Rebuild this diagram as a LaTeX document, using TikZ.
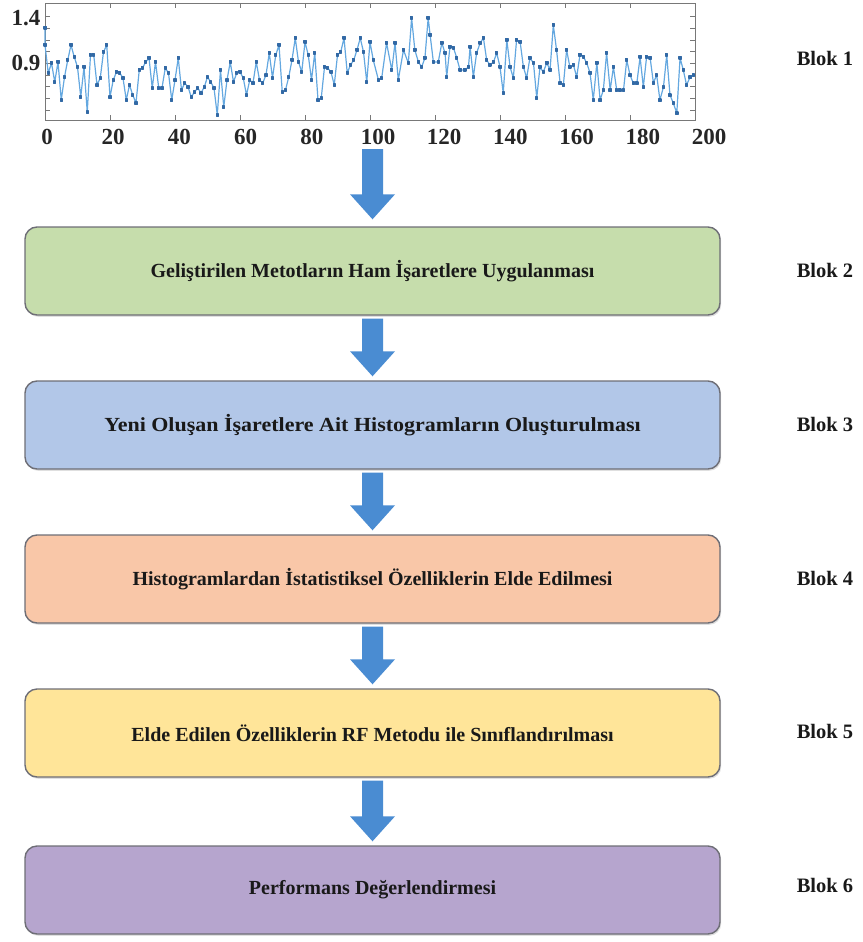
\documentclass[tikz,border=0pt]{standalone}
\usepackage{fontspec}
\setmainfont{Liberation Serif}
\usetikzlibrary{calc,plotmarks,shadows}
\definecolor{plotline}{RGB}{100,168,224}
\definecolor{plotmark}{RGB}{50,105,165}
\definecolor{framecol}{RGB}{120,120,120}
\definecolor{arrowblue}{RGB}{74,140,210}
\definecolor{boxedge}{RGB}{110,110,118}
\definecolor{fillgreen}{RGB}{198,221,172}
\definecolor{fillblue}{RGB}{178,199,232}
\definecolor{fillorange}{RGB}{249,199,168}
\definecolor{fillyellow}{RGB}{255,229,153}
\definecolor{fillpurple}{RGB}{182,165,206}
\newcommand{\blkarrow}[2]{%
  \fill[arrowblue] ($(#1)+(-10.5,0)$) -- ($(#1)+(10.5,0)$) -- ($(#2)+(10.5,-25)$) -- ($(#2)+(22.5,-25)$) -- (#2) -- ($(#2)+(-22.5,-25)$) -- ($(#2)+(-10.5,-25)$) -- cycle;}
\tikzset{
  stagebox/.style={draw=boxedge, line width=1.4pt, rounded corners=12pt,
    minimum width=695pt, minimum height=88pt, inner sep=0pt,
    font=\fontsize{20}{24}\selectfont\bfseries, text=black!90,
    drop shadow={shadow xshift=1.2pt, shadow yshift=-1.8pt, opacity=0.25}},
  bloklabel/.style={font=\fontsize{20.5}{24}\selectfont\bfseries, inner sep=0pt, text=black!90},
  ticklabel/.style={font=\fontsize{23}{26}\selectfont\bfseries, inner sep=0pt, text=black!85},
  tickline/.style={draw=framecol, line width=0.8pt}
}
\begin{document}
\begin{tikzpicture}[x=1pt,y=-1pt]
\useasboundingbox (0,0) rectangle (862,942);
% ---- plot ----
\node[draw=framecol, line width=0.8pt, minimum width=650pt, minimum height=117pt, anchor=north west, inner sep=0pt] (plot) at (45,3) {};
\foreach \t in {20,40,...,180} {
  \draw[tickline] ({45+3.25*\t},3) -- ++(0,5);
  \draw[tickline] ({45+3.25*\t},120) -- ++(0,-5);
}
\foreach \k in {0,...,8} {
  \draw[tickline] (45,{16.7+11.67*\k}) -- ++(5,0);
  \draw[tickline] (695,{16.7+11.67*\k}) -- ++(-5,0);
}
\foreach \t in {0,20,...,200} {
  \node[ticklabel] (xl\t) at ({47+3.31*\t},137) {\t};
}
\node[ticklabel] (yl14) at (26,18) {1.4};
\node[ticklabel] (yl09) at (26,63) {0.9};
\begin{scope}[shift={(45,0)}, x=3.25pt]
\draw[plotline, line width=1.2pt, line join=round] plot[mark=square*, mark size=1.1pt, mark options={draw=plotmark, fill=plotmark}] coordinates {
(0,28) (0,45) (1,73) (2,63) (3,82) (4,62) (5,100) (6,77) (7,60) (8,45) (9,57) (10,67) (11,97) (12,67) (13,112) (14,55) (15,55) (16,85) (17,78) (18,52) (19,45) (20,97) (21,80) (22,72) (23,73) (24,78) (25,100) (26,85) (27,95) (28,103) (29,70) (30,68) (31,62) (32,58) (33,88) (34,62) (35,88) (36,88) (37,68) (38,73) (39,100) (40,80) (41,58) (42,90) (43,83) (44,87) (45,97) (46,92) (47,88) (48,93) (49,87) (50,77) (51,82) (52,88) (53,115) (54,70) (55,107) (56,80) (57,62) (58,82) (59,73) (60,72) (61,78) (62,95) (63,80) (64,83) (65,62) (66,80) (67,83) (68,75) (69,53) (70,78) (71,55) (72,45) (73,92) (74,90) (75,77) (76,60) (77,38) (78,62) (79,72) (80,42) (81,55) (82,80) (83,53) (84,100) (85,98) (86,67) (87,68) (88,72) (89,85) (90,55) (91,52) (92,38) (93,73) (94,65) (95,60) (96,50) (97,38) (98,52) (99,82) (100,42) (101,60) (102.6,80) (103.6,78) (105.1,43) (106.7,70) (107.7,43) (108.7,80) (110.3,50) (111.8,63) (112.8,18) (113.8,50) (114.9,62) (115.9,67) (116.9,58) (117.9,18)
(118.5,35) (119.5,62) (121.0,62) (122.1,43) (123.1,53) (123.6,77) (124.6,47) (125.7,48) (126.7,58) (127.7,70) (129.2,70) (130.3,67) (130.8,47) (131.8,77) (132.8,53) (133.9,43) (134.9,38) (135.9,60) (136.9,65) (138.0,62) (139.0,53) (140.0,67) (141.0,93) (142.1,40) (143.1,67) (144.1,78) (145.1,40) (146.2,42) (147.2,67) (148.2,78) (149.2,58) (150.3,63) (151.3,98) (152.3,67) (153.3,72) (154.4,63) (155.4,70) (156.4,25) (157.4,50) (158.5,83) (159.5,85) (160.5,50) (161.5,67) (162.6,65) (163.6,77) (164.6,55) (165.7,57) (166.7,63) (167.7,73) (168.7,100) (169.8,63) (170.8,100) (171.8,90) (172.8,53) (173.9,90) (174.9,67) (175.9,90) (176.9,90) (178.0,90) (179.0,60) (180.0,75) (181.0,83) (182.1,83) (183.1,57) (184.1,87) (185.1,57) (186.2,58) (187.2,83) (188.2,75) (189.2,100) (190.3,87) (191.3,55) (192.3,95) (193.3,103) (194.4,113) (195.4,58) (196.4,70) (197.4,85) (198.5,77) (199.5,75)
};
\end{scope}
\node[bloklabel] (bl1) at (825,58) {Blok 1};
% ---- stages ----
\node[stagebox, fill=fillgreen]  (b2) at (372.5,271) {Geliştirilen Metotların Ham İşaretlere Uygulanması};
\node[stagebox, fill=fillblue]   (b3) at (372.5,425) {\scalebox{1.1}[1]{Yeni Oluşan İşaretlere Ait Histogramların Oluşturulması}};
\node[stagebox, fill=fillorange] (b4) at (372.5,579) {Histogramlardan İstatistiksel Özelliklerin Elde Edilmesi};
\node[stagebox, fill=fillyellow] (b5) at (372.5,733) {Elde Edilen Özelliklerin RF Metodu ile Sınıflandırılması};
\node[stagebox, fill=fillpurple] (b6) at (372.5,890) {Performans Değerlendirmesi};
\node[bloklabel] (bl2) at (825,270) {Blok 2};
\node[bloklabel] (bl3) at (825,424) {Blok 3};
\node[bloklabel] (bl4) at (825,578) {Blok 4};
\node[bloklabel] (bl5) at (825,731) {Blok 5};
\node[bloklabel] (bl6) at (825,885) {Blok 6};
% ---- arrows ----
\coordinate (a1s) at (372.5,149);
\coordinate (a1e) at ($(b2.north)+(0,-7)$);
\blkarrow{a1s}{a1e}
\coordinate (a2s) at ($(b2.south)+(0,3)$);
\coordinate (a2e) at ($(b3.north)+(0,-4)$);
\blkarrow{a2s}{a2e}
\coordinate (a3s) at ($(b3.south)+(0,3)$);
\coordinate (a3e) at ($(b4.north)+(0,-4)$);
\blkarrow{a3s}{a3e}
\coordinate (a4s) at ($(b4.south)+(0,3)$);
\coordinate (a4e) at ($(b5.north)+(0,-4)$);
\blkarrow{a4s}{a4e}
\coordinate (a5s) at ($(b5.south)+(0,3)$);
\coordinate (a5e) at ($(b6.north)+(0,-4)$);
\blkarrow{a5s}{a5e}
\end{tikzpicture}
\end{document}
